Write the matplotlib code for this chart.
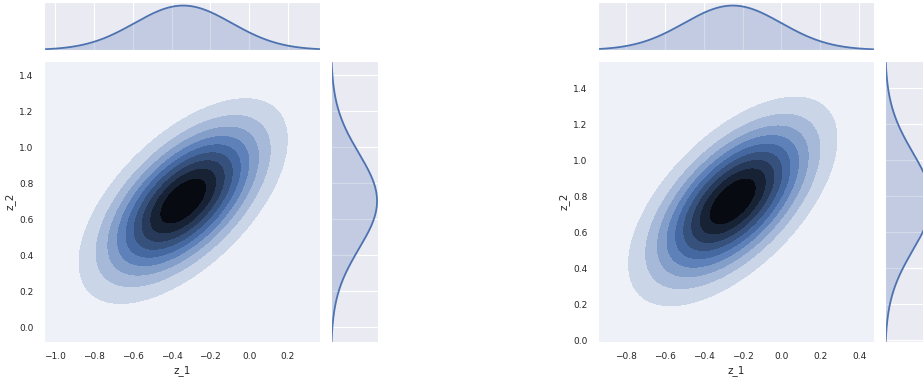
import colorsys
import numpy as np
import matplotlib
matplotlib.use("Agg")
import matplotlib.pyplot as plt
import seaborn as sns
from matplotlib.colors import LinearSegmentedColormap, to_rgb

# parametros (centro, desvio e correlacao de cada densidade)
panels = ["left", "right"]
centers_x = [-0.34, -0.25]
centers_y = [0.70, 0.77]
spread_x = [0.25, 0.25]
spread_y = [0.265, 0.27]
corr = [0.6, 0.6]

# limites e ticks dos eixos
xlims = [(-1.057, 0.365), (-0.944, 0.477)]
ylims = [(-0.083, 1.478), (-0.011, 1.55)]
xticks = [[-1.0, -0.8, -0.6, -0.4, -0.2, 0.0, 0.2],
          [-0.8, -0.6, -0.4, -0.2, 0.0, 0.2, 0.4]]
yticks = [[0.0, 0.2, 0.4, 0.6, 0.8, 1.0, 1.2, 1.4]] * 2
x_label = "z_1"
y_label = "z_2"

sns.set_style("darkgrid")
plt.rcParams["font.family"] = ["DejaVu Sans"]
plt.rcParams["text.color"] = ".15"
plt.rcParams["axes.labelcolor"] = ".15"
plt.rcParams["xtick.color"] = ".15"
plt.rcParams["ytick.color"] = ".15"

cor = "#4C72B0"
rgb = to_rgb(cor)
h, l, s = colorsys.rgb_to_hls(*rgb)
cores = [colorsys.hls_to_rgb(h, li, s) for li in np.linspace(1, 0, 12)]
cmap = LinearSegmentedColormap.from_list("joint", cores)

W, H = 923, 378
fig = plt.figure(figsize=(W / 100, H / 100), dpi=100)


def caixa(x0, y0, x1, y1):
    # converte pixels (origem no topo) para fracao da figura
    return [x0 / W, (H - y1) / H, (x1 - x0) / W, (y1 - y0) / H]


lefts = [44, 598]
for i in range(len(panels)):
    x0 = lefts[i]
    ax = fig.add_axes(caixa(x0, 61, x0 + 276, 342))
    ax_top = fig.add_axes(caixa(x0, 2, x0 + 276, 50))
    ax_right = fig.add_axes(caixa(x0 + 287, 61, x0 + 334, 342))

    mx, my = centers_x[i], centers_y[i]
    sx, sy, r = spread_x[i], spread_y[i], corr[i]

    gx = np.linspace(xlims[i][0] - 0.3, xlims[i][1] + 0.3, 300)
    gy = np.linspace(ylims[i][0] - 0.3, ylims[i][1] + 0.3, 300)
    X, Y = np.meshgrid(gx, gy)
    u = (X - mx) / sx
    v = (Y - my) / sy
    Z = np.exp(-(u ** 2 - 2 * r * u * v + v ** 2) / (2 * (1 - r ** 2)))
    Z = Z / (2 * np.pi * sx * sy * np.sqrt(1 - r ** 2))
    niveis = np.linspace(0, Z.max(), 11)
    ax.contourf(X, Y, Z, niveis, cmap=cmap)

    ax.set_xlim(xlims[i])
    ax.set_ylim(ylims[i])
    ax.set_xticks(xticks[i])
    ax.set_yticks(yticks[i])
    ax.tick_params(labelsize=6.5, pad=4)
    ax.set_xlabel(x_label, fontsize=7.5, labelpad=3)
    ax.set_ylabel(y_label, fontsize=7.5, labelpad=3)

    # marginal de cima
    fx = np.exp(-0.5 * ((gx - mx) / sx) ** 2) / (sx * np.sqrt(2 * np.pi))
    ax_top.fill_between(gx, 0, fx, color=cor, alpha=0.25, lw=0)
    ax_top.plot(gx, fx, color=cor, lw=1.3)
    ax_top.set_xlim(xlims[i])
    ax_top.set_ylim(0, fx.max() * 1.08)
    ax_top.set_xticks(xticks[i])
    ax_top.set_xticklabels([])
    ax_top.set_yticks([])
    ax_top.yaxis.grid(False)

    # marginal da direita
    fy = np.exp(-0.5 * ((gy - my) / sy) ** 2) / (sy * np.sqrt(2 * np.pi))
    ax_right.fill_betweenx(gy, 0, fy, color=cor, alpha=0.25, lw=0)
    ax_right.plot(fy, gy, color=cor, lw=1.3)
    ax_right.set_ylim(ylims[i])
    ax_right.set_xlim(0, fy.max() * 1.02)
    ax_right.set_yticks(yticks[i])
    ax_right.set_yticklabels([])
    ax_right.set_xticks([])
    ax_right.xaxis.grid(False)

fig.savefig("out.png", dpi=100)
